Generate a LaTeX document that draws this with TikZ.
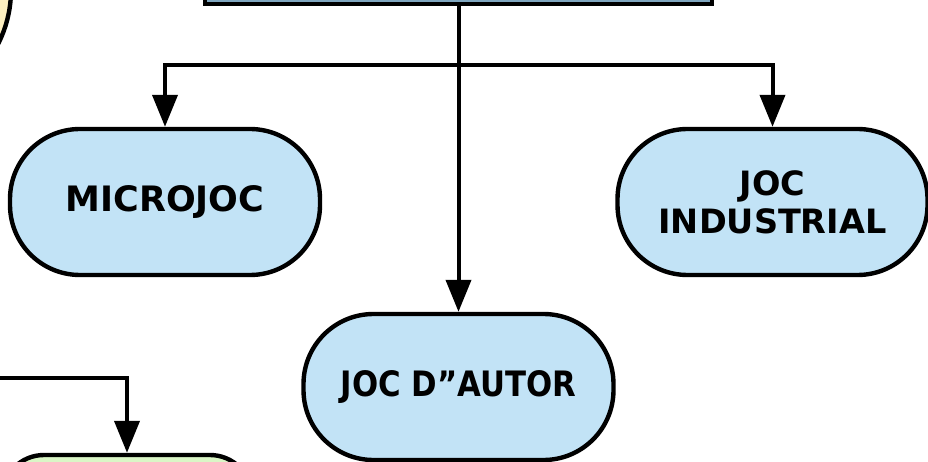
\documentclass[tikz,border=0pt]{standalone}
\usepackage{fontspec}
\setmainfont{DejaVu Sans}
\usetikzlibrary{arrows.meta}
\definecolor{pillblue}{HTML}{C2E3F6}
\definecolor{pillgreen}{HTML}{DAF6C6}
\definecolor{pillyellow}{HTML}{FDEFC0}
\definecolor{headblue}{HTML}{7FA6BF}
\tikzset{
  pill/.style={draw=black, line width=4.4pt, fill=pillblue, rounded corners=70pt,
    minimum width=310pt, minimum height=146pt, inner sep=0pt,
    font=\fontsize{35}{38}\selectfont\bfseries, text=black, align=center},
  greenpill/.style={pill, fill=pillgreen, rounded corners=42pt,
    minimum width=250pt, minimum height=154pt},
  yellowblob/.style={draw=black, line width=4.4pt, fill=pillyellow, circle,
    minimum size=238pt, inner sep=0pt},
  headbox/.style={draw=black, line width=4.4pt, fill=headblue,
    minimum width=507pt, minimum height=64pt, inner sep=0pt},
  conn/.style={draw=black, line width=4pt,
    -{Triangle[length=32pt,width=25pt]}}
}
\begin{document}
\begin{tikzpicture}[x=1pt,y=-1pt]
\useasboundingbox (0,0) rectangle (928,462);
\clip (0,0) rectangle (928,462);

% shapes reaching in from the edges
\node[headbox] (head) at (458.5,-28) {};
\node[yellowblob] (yel) at (-108,-10) {};
\node[greenpill] (green) at (127,532) {};

% the three kinds of game
\node[pill] (micro) at (165,202) {MICROJOC};
\node[pill, font=\fontsize{33.5}{38}\selectfont\bfseries] (indus) at (772.5,202) {JOC\\INDUSTRIAL};
\node[pill] (autor) at (458.5,387) {\scalebox{0.88}[1]{JOC D”AUTOR}};

% branching connectors
\coordinate (split) at (458.5,65);
\draw[conn] (head.south) -- (autor.north);
\draw[conn] (split) -| (micro.north);
\draw[conn] (split) -| (indus.north);

% feed into the green box
\coordinate (feed) at (-10,378);
\draw[conn] (feed) -| (green.north);
\end{tikzpicture}
\end{document}
